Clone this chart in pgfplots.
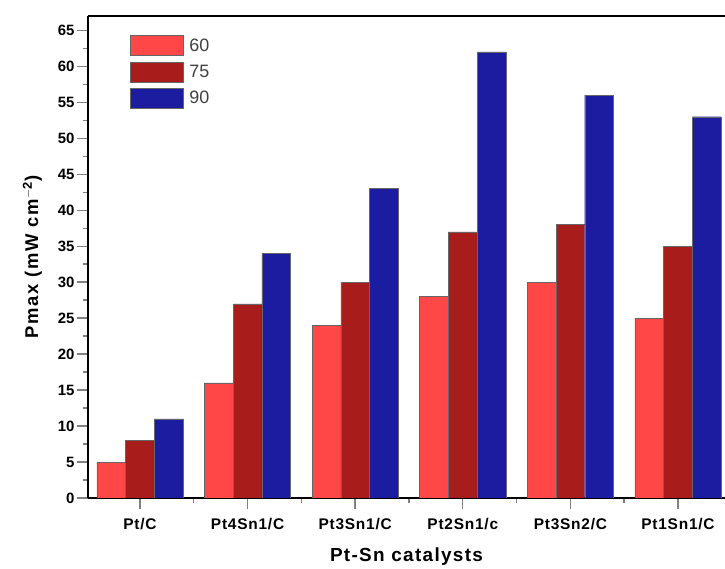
\documentclass[border=0pt]{standalone}
\usepackage{pgfplots}
\pgfplotsset{compat=1.18}
\usepackage{fontspec}
\setmainfont{Liberation Sans}
\newfontfamily\tickfont{Liberation Sans}[LetterSpace=5]
\newfontfamily\xlabfont{Liberation Sans}[LetterSpace=7]
\newfontfamily\ylabfont{Liberation Sans}[LetterSpace=9]
\definecolor{c60}{HTML}{FF4747}
\definecolor{c75}{HTML}{A81C1C}
\definecolor{c90}{HTML}{1C1CA0}
\begin{document}
\begin{tikzpicture}
\begin{axis}[
  name=ax,
  scale only axis,
  width=637bp, height=482bp,
  ymin=0, ymax=67,
  xmin=-0.483, xmax=5.437,
  axis y line*=left,
  axis x line*=box,
  axis line style={line width=1.5pt},
  ybar=0pt,
  bar width=0.267,
  ytick={0,5,...,65},
  minor y tick num=1,
  xtick={0,1,2,3,4,5},
  xticklabels={Pt/C,Pt4Sn1/C,Pt3Sn1/C,Pt2Sn1/c,Pt3Sn2/C,Pt1Sn1/C},
  minor xtick={0.5,1.5,2.5,3.5,4.5},
  tick align=outside,
  x tick style={line width=1.4pt},
  y tick style={line width=1.4pt},
  major tick length=11bp,
  minor tick length=5bp,
  xtick pos=bottom, ytick pos=left,
  /pgf/number format/assume math mode=true,
  yticklabel style={font=\fontsize{15}{17}\selectfont\bfseries, xshift=1bp},
  xticklabel style={font=\tickfont\fontsize{15.5}{18}\selectfont\bfseries, yshift=-6bp},
  xlabel={Pt-Sn catalysts},
  xlabel style={font=\xlabfont\fontsize{19}{22}\selectfont\bfseries, yshift=-11bp},
  ylabel={Pmax (mW cm$^{\mathbf{-2}}$)},
  ylabel style={font=\ylabfont\fontsize{18.5}{21}\selectfont\bfseries, yshift=9bp},
  legend style={at={(0.066,0.96)}, anchor=north west, draw=none, fill=none,
    font=\fontsize{18}{20}\selectfont, row sep=6bp, inner sep=0pt,
    text=black!75,
    /tikz/every odd column/.style={anchor=west}},
  legend cell align=left,
  legend image code/.code={\draw[#1] (0bp,-10bp) rectangle (53bp,10bp); \path[draw=none,fill=none] (53bp,0) -- (57bp,0);},
]
\addplot[fill=c60, draw=black!60, line width=0.4pt] coordinates {(0,5) (1,16) (2,24) (3,28) (4,30) (5,25)};
\addplot[fill=c75, draw=black!60, line width=0.4pt] coordinates {(0,8) (1,27) (2,30) (3,37) (4,38) (5,35)};
\addplot[fill=c90, draw=black!60, line width=0.4pt] coordinates {(0,11) (1,34) (2,43) (3,62) (4,56) (5,53)};
\legend{60,75,90}
\end{axis}
\pgfresetboundingbox
\path ([shift={(-88bp,-71bp)}]ax.south west) rectangle ([shift={(0bp,16bp)}]ax.north east);
\end{tikzpicture}
\end{document}
